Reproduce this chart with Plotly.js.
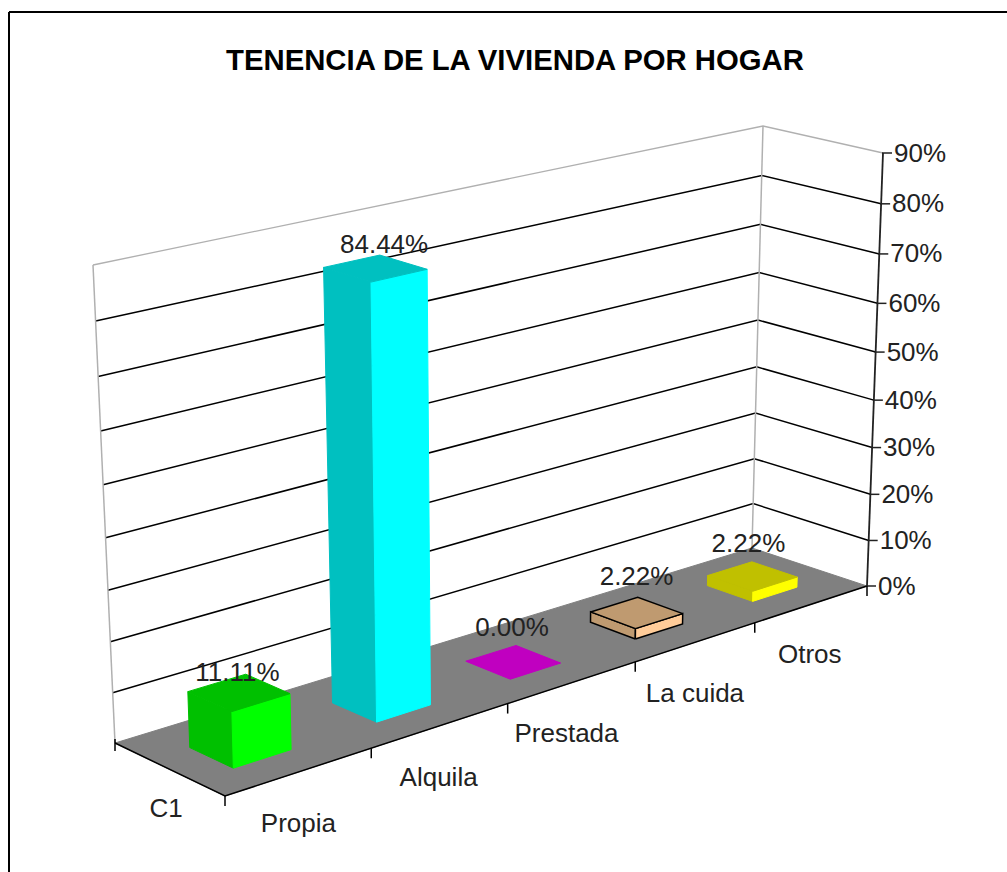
<!DOCTYPE html>
<html>
<head>
<meta charset="utf-8">
<script src="https://cdn.plot.ly/plotly-3.0.1.min.js"></script>
<style>html,body{margin:0;padding:0;background:#fff}#chart{width:1007px;height:872px}</style>
</head>
<body>
<div id="chart"></div>
<script>
// ---- data ----
const chartTitle = "TENENCIA DE LA VIVIENDA POR HOGAR";
const categories = ["Propia", "Alquila", "Prestada", "La cuida", "Otros"];
const seriesName = "C1";
const values = [11.11, 84.44, 0.00, 2.22, 2.22];
const valueTicks = [0, 10, 20, 30, 40, 50, 60, 70, 80, 90];
const sideFaceColors = ["#00c000", "#00c0c0", "#c000c0", "#bf9a70", "#c0c000"];
const frontFaceColors = ["#00ff00", "#00ffff", "#ff00ff", "#ffcc99", "#ffff00"];

// ---- perspective projection of the (category, depth, value) box onto the page ----
const floorCorners = {A:[225,796], B:[867,586], C:[115,743], D:[752,548]};
const roofCorners  = {A:[214,305], B:[883,153], C:[93,265],  D:[763,126]};
const vMax = 90;
const persp = (t, k) => t * k / (1 + t * (k - 1));
function bil(c, s, d, i) {
  return (1 - d) * (c.A[i] + s * (c.B[i] - c.A[i])) + d * (c.C[i] + s * (c.D[i] - c.C[i]));
}
function proj(u, d, v) {
  const s = persp(u, 1.18), w = persp(v / vMax, 0.94);
  return [0, 1].map(i => bil(floorCorners, s, d, i) * (1 - w) + bil(roofCorners, s, d, i) * w);
}
const traces = [];
function poly(pts, fill, line, lw) {
  const xs = pts.map(p => p[0]), ys = pts.map(p => p[1]);
  xs.push(xs[0]); ys.push(ys[0]);
  traces.push({x: xs, y: ys, mode: "lines", fill: "toself", fillcolor: fill,
    line: {color: line || fill, width: lw || 1}, hoverinfo: "skip", showlegend: false});
}
function seg(pts, color, w) {
  traces.push({x: pts.map(p => p[0]), y: pts.map(p => p[1]), mode: "lines",
    line: {color: color, width: w || 1.5}, hoverinfo: "skip", showlegend: false});
}
function txt(p, s, pos, size, color) {
  traces.push({x: [p[0]], y: [p[1]], mode: "text", text: [s], textposition: pos || "middle center",
    textfont: {family: "Liberation Sans, Arial, sans-serif", size: size || 26, color: color || "#222"},
    hoverinfo: "skip", showlegend: false, cliponaxis: false});
}

// walls and gridlines
valueTicks.forEach(t => {
  const col = t === 90 ? "#b0b0b0" : "#000";
  if (t > 0) seg([proj(0,1,t), proj(1,1,t), proj(1,0,t)], col, t === 90 ? 1.3 : 1.5);
});
seg([proj(0,1,0), proj(0,1,90)], "#b0b0b0", 1.5);
seg([proj(1,1,0), proj(1,1,90)], "#b0b0b0", 1.5);

// floor
poly([proj(0,0,0), proj(1,0,0), proj(1,1,0), proj(0,1,0)], "#808080");

// axes
seg([proj(0,1,0), proj(0,0,0), proj(1,0,0)], "#000", 1.5);
seg([proj(1,0,0), proj(1,0,90)], "#222", 1.8);
valueTicks.forEach(t => {
  const p = proj(1,0,t);
  seg([[p[0]-1, p[1]], [p[0]+9, p[1]]], "#222", 1.5);
  txt([p[0]+11, p[1]+2], t + "%", "middle right");
});
const n = categories.length;
for (let i = 0; i <= n; i++) {
  const p = proj(i / n, 0, 0);
  seg([p, [p[0], p[1] + 10]], "#000", 1.5);
}
const c0 = proj(0,1,0);
seg([[c0[0], c0[1]-4], [c0[0], c0[1] + 8]], "#000", 1.5);

// bars
const barU = [0.053, 0.132], barD = [0.285, 0.68];
values.forEach((val, i) => {
  const u0 = (i + barU[0]/0.2) / n, u1 = (i + barU[1]/0.2) / n;
  const d0 = barD[0], d1 = barD[1];
  const outline = categories[i] === "La cuida" ? "#000" : null;
  const lw = outline ? 1.5 : 1;
  if (val > 0) {
    poly([proj(u0,d0,0), proj(u0,d1,0), proj(u0,d1,val), proj(u0,d0,val)], sideFaceColors[i], outline, lw);
    poly([proj(u0,d0,0), proj(u1,d0,0), proj(u1,d0,val), proj(u0,d0,val)], frontFaceColors[i], outline, lw);
  }
  poly([proj(u0,d0,val), proj(u1,d0,val), proj(u1,d1,val), proj(u0,d1,val)], sideFaceColors[i], outline, lw);
});

// data labels (screen nudges from the top of each bar)
const labelNudge = [[0,-19],[10,-22],[0,-33],[1,-35],[-3,-31]];
values.forEach((val, i) => {
  const p = proj((i + 0.45) / n, 0.48, val);
  txt([p[0] + labelNudge[i][0], p[1] + labelNudge[i][1]], val.toFixed(2) + "%");
});

// category labels
const catNudge = [[-1,54],[-2,54],[-6,53],[-1,54],[-2,52]];
categories.forEach((c, i) => {
  const p = proj((i + 0.5) / n, 0, 0);
  txt([p[0] + catNudge[i][0], p[1] + catNudge[i][1]], c);
});
const cm = proj(0, 0.5, 0);
txt([cm[0] - 4, cm[1] + 41], seriesName);
txt([515, 63], "<b>" + chartTitle + "</b>", "middle center", 29.3, "#000");

const layout = {
  width: 1007, height: 872, margin: {l:0, r:0, t:0, b:0},
  paper_bgcolor: "#fff", plot_bgcolor: "#fff", showlegend: false,
  xaxis: {range: [0, 1007], visible: false, fixedrange: true},
  yaxis: {range: [872, 0], visible: false, fixedrange: true},
  shapes: [
    {type: "line", xref: "x", yref: "y", x0: 9, y0: 12, x1: 1007, y1: 12, line: {color: "#000", width: 2}},
    {type: "line", xref: "x", yref: "y", x0: 9, y0: 12, x1: 9, y1: 872, line: {color: "#000", width: 2}}
  ]
};
Plotly.newPlot("chart", traces, layout, {displayModeBar: false, staticPlot: true});
</script>
</body>
</html>
